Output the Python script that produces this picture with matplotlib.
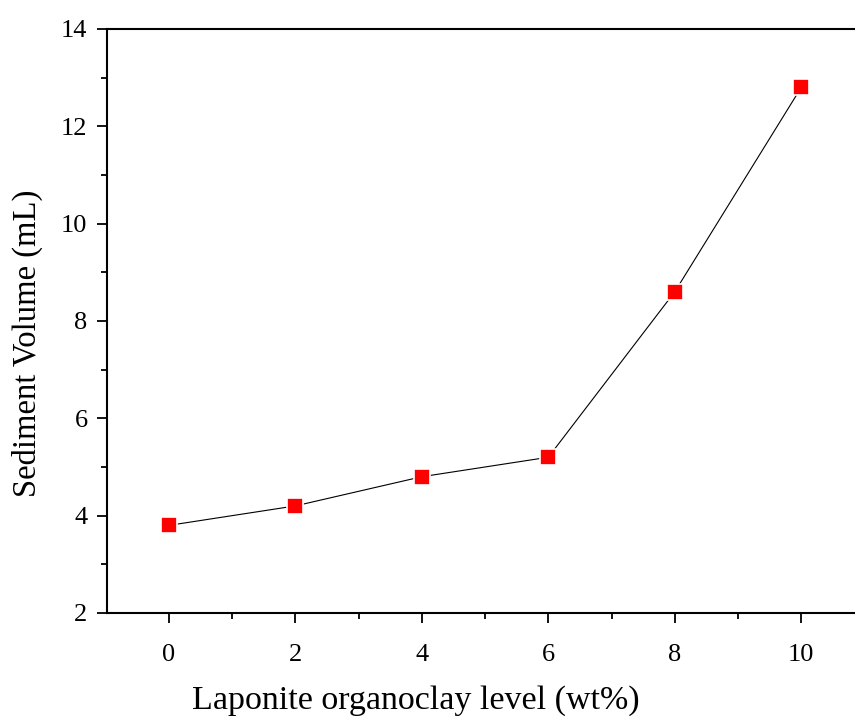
import matplotlib
matplotlib.use("Agg")
import matplotlib.pyplot as plt
from matplotlib.ticker import MultipleLocator

# data
level = [0, 2, 4, 6, 8, 10]
volume = [3.8, 4.2, 4.8, 5.2, 8.6, 12.8]

plt.rcParams["font.family"] = ["Liberation Serif", "DejaVu Serif"]

fig = plt.figure(figsize=(8.55, 7.16), dpi=100)
ax = fig.add_axes([0.1251, 0.1439, 0.8749, 0.8156])

ax.plot(level, volume, color="black", lw=0.8, marker="s", ms=11,
        mfc="red", mec="white", mew=1.2, zorder=3)

ax.set_xlim(-0.98, 10.85)
ax.set_ylim(2, 14)
ax.xaxis.set_major_locator(MultipleLocator(2))
ax.xaxis.set_minor_locator(MultipleLocator(1))
ax.yaxis.set_major_locator(MultipleLocator(2))
ax.yaxis.set_minor_locator(MultipleLocator(1))
ax.tick_params(which="major", direction="out", length=7, width=1.3,
               labelsize=19, top=False, right=False)
ax.tick_params(which="minor", direction="out", length=4, width=1.3,
               top=False, right=False)
ax.tick_params(axis="x", pad=15)
ax.tick_params(axis="y", pad=7)
ax.spines["right"].set_visible(False)
for s in ["left", "bottom", "top"]:
    ax.spines[s].set_linewidth(1.5)

ax.set_xlabel("Laponite organoclay level (wt%)", fontsize=24.5, va="center")
ax.set_ylabel("Sediment Volume (mL)", fontsize=23.5, va="center")
ax.xaxis.set_label_coords(0.413, -0.150)
ax.yaxis.set_label_coords(-0.107, 0.461)

fig.savefig("out.png", dpi=100)
